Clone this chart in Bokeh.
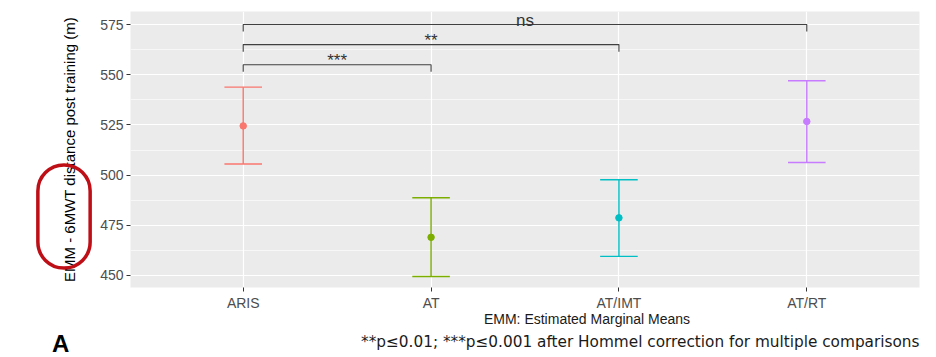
import numpy as np
from bokeh.plotting import figure
from bokeh.models import ColumnDataSource, FixedTicker, Label
from bokeh.core.properties import value
from bokeh.embed import file_html
from bokeh.resources import INLINE

# ---- data ----
groups = ["ARIS", "AT", "AT/IMT", "AT/RT"]
emm = [524.5, 469.0, 478.7, 526.7]
lower = [505.5, 449.5, 459.5, 506.3]
upper = [543.8, 488.7, 497.7, 547.0]
colors = ["#F8766D", "#7CAE00", "#00BFC4", "#C77CFF"]

comp_from = ["ARIS", "ARIS", "ARIS"]
comp_to = ["AT", "AT/IMT", "AT/RT"]
comp_y = [555, 565, 575]
comp_label = ["***", "**", "ns"]

y_ticks = [450, 475, 500, 525, 550, 575]

FONT = "Liberation Sans"

W, H = 936, 357
BL, BR, BT, BB = 130, 11, 11, 70
X0, X1 = 0.4, 4.6
Y0, Y1 = 444.0, 581.5

xpos = [i + 1 for i in range(len(groups))]
cap = 0.1

p = figure(width=W, height=H, x_range=(X0, X1), y_range=(Y0, Y1),
           output_backend="svg", toolbar_location=None,
           min_border_left=BL, min_border_right=BR, min_border_top=BT,
           min_border_bottom=BB)
p.background_fill_color = "#EBEBEB"
p.border_fill_color = "white"
p.outline_line_color = None

# pixel (canvas) -> data helpers for the decorations outside the panel
fw, fh = W - BL - BR, H - BT - BB
def dx(px):
    return X0 + (px - BL) * (X1 - X0) / fw
def dy(py):
    return Y1 - (py - BT) * (Y1 - Y0) / fh

# grids
p.xgrid.ticker = FixedTicker(ticks=xpos)
p.xgrid.grid_line_color = "white"
p.xgrid.grid_line_width = 1.2
p.ygrid.ticker = FixedTicker(ticks=y_ticks,
                             minor_ticks=[t + 12.5 for t in [437.5] + y_ticks])
p.ygrid.grid_line_color = "white"
p.ygrid.grid_line_width = 1.2
p.ygrid.minor_grid_line_color = "white"
p.ygrid.minor_grid_line_width = 0.6

# axes
p.xaxis.ticker = FixedTicker(ticks=xpos)
p.xaxis.major_label_overrides = {x: g for x, g in zip(xpos, groups)}
p.yaxis.ticker = FixedTicker(ticks=y_ticks)
for ax in (p.xaxis, p.yaxis):
    ax.axis_line_color = None
    ax.major_tick_line_color = "#333333"
    ax.major_tick_out = 4
    ax.major_tick_in = 0
    ax.minor_tick_line_color = None
    ax.major_label_text_color = "#4D4D4D"
    ax.major_label_text_font = FONT
    ax.major_label_text_font_size = "14px"
    ax.major_label_standoff = 3
p.yaxis.axis_label = "EMM - 6MWT distance post training (m)"
p.yaxis.axis_label_text_font = FONT
p.yaxis.axis_label_text_font_size = "15px"
p.yaxis.axis_label_text_font_style = "normal"
p.yaxis.axis_label_text_color = "black"
p.yaxis.axis_label_standoff = 19

# error bars
src = ColumnDataSource(dict(x=xpos, emm=emm, lo=lower, hi=upper, c=colors,
                            x0=[x - cap for x in xpos], x1=[x + cap for x in xpos]))
p.segment(x0="x", y0="lo", x1="x", y1="hi", line_color="c", line_width=1.4, source=src)
p.segment(x0="x0", y0="lo", x1="x1", y1="lo", line_color="c", line_width=1.4, source=src)
p.segment(x0="x0", y0="hi", x1="x1", y1="hi", line_color="c", line_width=1.4, source=src)
p.scatter(x="x", y="emm", size=6.5, fill_color="c", line_color="c", source=src)

# significance brackets
tip = 3.5
xs, ys, lx = [], [], []
for a, b, yv in zip(comp_from, comp_to, comp_y):
    xa = xpos[groups.index(a)]
    xb = xpos[groups.index(b)]
    xs.append([xa, xa, xb, xb])
    ys.append([yv - tip, yv, yv, yv - tip])
    lx.append((xa + xb) / 2)
p.multi_line(xs=xs, ys=ys, line_color="#404040", line_width=1.1)
p.text(x=lx, y=[yv + 2.0 for yv in comp_y], text=comp_label,
       text_align="center", text_baseline="alphabetic",
       text_font=value(FONT), text_font_size="17px", text_color="#333333")

# texts below the panel (side-panel annotations are not clipped to the frame)
p.add_layout(Label(x=dx(590), y=dy(318), text="EMM: Estimated Marginal Means",
                   text_align="center", text_baseline="middle", text_font=FONT,
                   text_font_size="14px", text_color="#1A1A1A"), "below")
p.add_layout(Label(x=dx(925), y=dy(341),
                   text="**p\u22640.01; ***p\u22640.001 after Hommel correction for multiple comparisons",
                   text_align="right", text_baseline="middle", text_font="DejaVu Sans",
                   text_font_size="15.3px", text_color="#1A1A1A"), "below")
p.add_layout(Label(x=dx(51), y=dy(343), text="A", text_align="left",
                   text_baseline="middle", text_font=FONT, text_font_size="24px",
                   text_font_style="bold", text_color="black"), "right")

# red oval highlight drawn as a rounded label border in the left panel
p.add_layout(Label(x=dx(63), y=dy(216), text=" ", text_align="center",
                   text_baseline="middle", text_font=FONT, text_font_size="1px",
                   padding=dict(left=26, right=26, top=51, bottom=51),
                   border_radius=26, border_line_color="#BE0F17",
                   border_line_width=3.5, background_fill_color=None), "left")

open("out.html", "w").write(file_html(p, INLINE))
